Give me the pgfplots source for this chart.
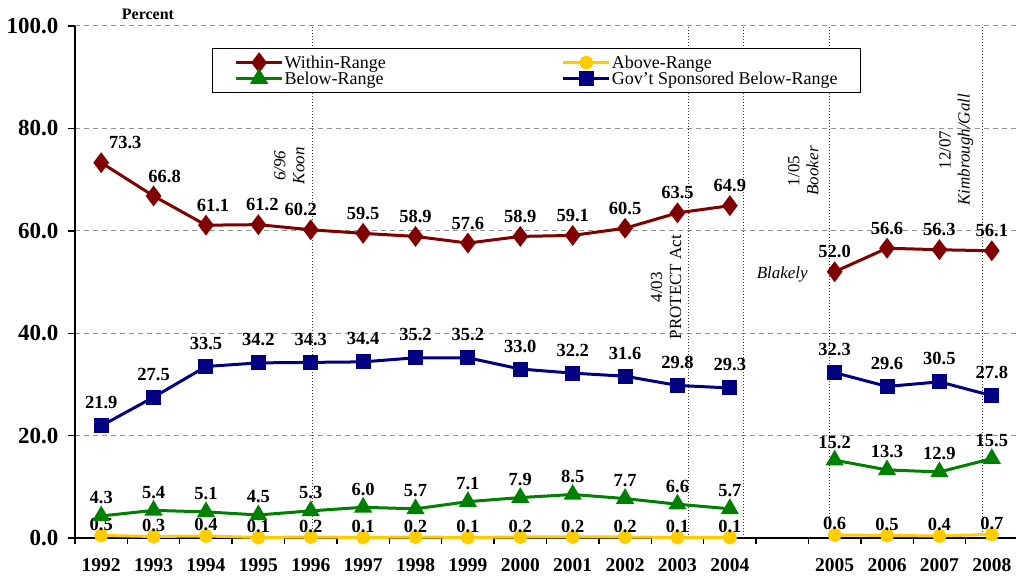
\documentclass[border=0pt]{standalone}
\usepackage{fontspec}
\setmainfont{Liberation Serif}
\usepackage{pgfplots}
\usepackage{pgfplotstable}
\pgfplotsset{compat=1.18}

\definecolor{withinred}{RGB}{128,0,0}
\definecolor{abovegold}{RGB}{255,204,0}
\definecolor{belowgreen}{RGB}{0,128,0}
\definecolor{govblue}{RGB}{0,0,128}

% idx 13 is the empty slot between 2004 and 2005
\pgfplotstableread{
idx within above below gov wdx
0  73.3 0.5 4.3  21.9 24
1  66.8 0.3 5.4  27.5 11
2  61.1 0.4 5.1  33.5 7
3  61.2 0.1 4.5  34.2 4
4  60.2 0.2 5.3  34.3 -10
5  59.5 0.1 6.0  34.4 0
6  58.9 0.2 5.7  35.2 0
7  57.6 0.1 7.1  35.2 0
8  58.9 0.2 7.9  33.0 0
9  59.1 0.2 8.5  32.2 0
10 60.5 0.2 7.7  31.6 0
11 63.5 0.1 6.6  29.8 0
12 64.9 0.1 5.7  29.3 0
13 nan  nan nan  nan  0
14 52.0 0.6 15.2 32.3 0
15 56.6 0.5 13.3 29.6 0
16 56.3 0.4 12.9 30.5 0
17 56.1 0.7 15.5 27.8 0
}\rates

\newcommand{\lblfont}{\fontsize{18.5}{18.5}\selectfont\bfseries}
\newcommand{\annfont}{\fontsize{17}{19}\selectfont}

\begin{document}
\begin{tikzpicture}
\begin{axis}[
  scale only axis, width=943pt, height=512pt,
  xmin=-0.5, xmax=17.5, ymin=0, ymax=100,
  axis x line*=bottom, axis y line*=left,
  axis line style={line width=1.6pt, black},
  clip=false,
  unbounded coords=jump,
  /pgf/number format/assume math mode=true,
  tick align=outside,
  major tick length=7pt, minor tick length=6pt,
  ytick={0,20,40,60,80,100},
  ytick style={black, line width=1.4pt},
  yticklabel style={font=\fontsize{23}{23}\selectfont\bfseries, xshift=-6pt,
    /pgf/number format/.cd, fixed, fixed zerofill, precision=1},
  xtick={0,1,2,3,4,5,6,7,8,9,10,11,12,14,15,16,17},
  xticklabels={1992,1993,1994,1995,1996,1997,1998,1999,2000,2001,2002,2003,2004,2005,2006,2007,2008},
  xticklabel style={font=\fontsize{19.5}{19.5}\selectfont\bfseries, yshift=-10pt},
  major x tick style={draw=none},
  minor xtick={-0.5,0.5,...,17.5},
  minor x tick style={black, line width=1.4pt},
  extra x ticks={4.03,11.2,12.25,13.89,16.81},
  extra x tick labels={},
  extra x tick style={grid=major, major tick length=0pt,
    major grid style={black!80, dotted, line width=0.7pt}},
  ymajorgrids=true,
  major grid style={gray!85, line width=1pt, dash pattern=on 5pt off 4pt},
  legend columns=2,
  legend style={at={(rel axis cs:0.1453,0.957)}, anchor=north west,
    draw=black, line width=1.2pt, fill=white,
    font=\fontsize{18}{18}\selectfont,
    inner xsep=22pt, inner ysep=6pt,
    nodes={inner sep=1pt},
    /tikz/every even column/.append style={column sep=175pt}},
  legend cell align=left,
  legend image code/.code={
    \draw[mark repeat=2, mark phase=2] plot coordinates {(0pt,0pt) (23pt,0pt) (46pt,0pt)};},
  nodes near coords={\pgfmathprintnumber[fixed,fixed zerofill,precision=1]{\pgfplotspointmeta}},
  nodes near coords style={font=\lblfont, black, anchor=center, inner sep=0pt},
]

\addplot[withinred, line width=3pt, mark=diamond*, mark size=8pt,
  mark options={solid},
  visualization depends on={\thisrow{wdx} \as \wdx},
  nodes near coords style={yshift=20pt, xshift=\wdx pt}]
  table[x=idx, y=within] {\rates};
\addlegendentry{Within-Range}

\addplot[abovegold, line width=3pt, mark=*, mark size=5.5pt,
  nodes near coords style={yshift=11pt}]
  table[x=idx, y=above] {\rates};
\addlegendentry{Above-Range}

\addplot[belowgreen, line width=3pt, mark=triangle*, mark size=7.5pt,
  nodes near coords style={yshift=18pt}]
  table[x=idx, y=below] {\rates};
\addlegendentry{Below-Range}

\addplot[govblue, line width=3pt, mark=square*, mark size=6pt,
  nodes near coords style={yshift=23pt}]
  table[x=idx, y=gov] {\rates};
\addlegendentry{Gov't Sponsored Below-Range}

\node[font=\fontsize{16}{16}\selectfont\bfseries] at (rel axis cs:0.0774,1) [yshift=12pt] {Percent};

\node[rotate=90, align=center, font=\annfont] at (axis cs:3.59,72.7) {\textit{6/96}\\\textit{Koon}};
\node[rotate=90, align=center, font=\annfont] at (axis cs:10.78,49.0) {4/03\\PROTECT Act};
\node[rotate=90, align=center, font=\annfont] at (axis cs:13.40,71.7) {1/05\\\textit{Booker}};
\node[font=\annfont] at (axis cs:13.0,51.4) {\textit{Blakely}};
\node[rotate=90, align=center, font=\annfont] at (axis cs:16.32,75.8) {12/07\\\textit{Kimbrough/Gall}};

\coordinate (bl) at (rel axis cs:0,0);
\coordinate (tr) at (rel axis cs:1,1);
\end{axis}
\pgfresetboundingbox
\useasboundingbox ([shift={(-75pt,-41pt)}]bl) rectangle ([shift={(-2pt,26pt)}]tr);
\end{tikzpicture}
\end{document}
